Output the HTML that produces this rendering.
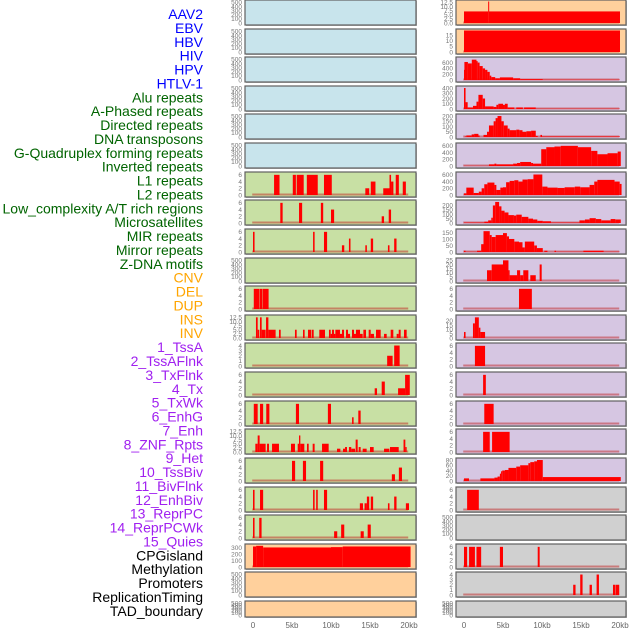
<!DOCTYPE html>
<html><head><meta charset="utf-8">
<style>
html,body{margin:0;padding:0;background:#fff;}
svg{display:block;font-family:"Liberation Sans",sans-serif;}
</style></head>
<body>
<svg id="chart" width="630" height="630" viewBox="0 0 630 630" xmlns="http://www.w3.org/2000/svg"></svg>
<script>
const trackLabels=["AAV2","EBV","HBV","HIV","HPV","HTLV-1","Alu repeats","A-Phased repeats","Directed repeats","DNA transposons","G-Quadruplex forming repeats","Inverted repeats","L1 repeats","L2 repeats","Low_complexity A/T rich regions","Microsatellites","MIR repeats","Mirror repeats","Z-DNA motifs","CNV","DEL","DUP","INS","INV","1_TssA","2_TssAFlnk","3_TxFlnk","4_Tx","5_TxWk","6_EnhG","7_Enh","8_ZNF_Rpts","9_Het","10_TssBiv","11_BivFlnk","12_EnhBiv","13_ReprPC","14_ReprPCWk","15_Quies","CPGisland","Methylation","Promoters","ReplicationTiming","TAD_boundary"];
const labelColors=["#0000ff","#0000ff","#0000ff","#0000ff","#0000ff","#0000ff","#006400","#006400","#006400","#006400","#006400","#006400","#006400","#006400","#006400","#006400","#006400","#006400","#006400","#ffa500","#ffa500","#ffa500","#ffa500","#ffa500","#a020f0","#a020f0","#a020f0","#a020f0","#a020f0","#a020f0","#a020f0","#a020f0","#a020f0","#a020f0","#a020f0","#a020f0","#a020f0","#a020f0","#a020f0","#000","#000","#000","#000","#000"];
const xTickKb=[0,5,10,15,20];
const xTickLabels=["0","5kb","10kb","15kb","20kb"];

const c1r6_s=[2.7,5.1,5.6,6.9,9.1,14.4,15.1,16.7,17.5,17.7,18.3,19.2];
const c1r6_e=[3.4,5.5,6.5,8.3,10.1,14.9,15.7,17.5,17.7,18.0,18.7,19.6];
const c1r6_v=[6,6,6,6,6,2,4,2,6,4,6,4];
const c1r7_s=[3.5,5.9,8.7,10.0,16.5,17.4];
const c1r7_e=[3.8,6.3,9.0,10.4,16.8,17.7];
const c1r7_v=[6,6,6,4,2,4];
const c1r8_s=[0,7.7,9.1,11.4,12.3,14.4,15.1,17.3,18.1];
const c1r8_e=[0.2,7.9,9.5,11.7,12.5,14.6,15.4,17.5,18.4];
const c1r8_v=[6,6,6,2,4,2,4,2,4];
const c1r10_s=[0.1,0.85,1.25];
const c1r10_e=[0.8,1.2,2.0];
const c1r10_v=[6,6,6];
const c1r11_s=[0.38,0.6,0.9,1.11,1.67,1.97,3.33,5.38,6.41,7.05,7.56,8.5,9.74,9.96,10.13,10.38,10.56,11.15,11.41,11.92,12.18,12.69,12.95,13.2,13.72,14.15,14.83,15.09,15.77,16.8,17.65,18.42,18.68,19.36];
const c1r11_e=[0.6,0.81,1.11,1.62,1.97,2.9,3.55,5.6,6.62,7.48,7.78,9.23,9.96,10.13,10.38,10.56,11.15,11.41,11.67,12.18,12.44,12.95,13.2,13.72,14.06,14.49,15.09,15.51,16.37,17.14,17.99,18.68,18.93,19.7];
const c1r11_v=[12.5,5,12.5,5,12.5,5,5,5,5,5,5,5,5,2.5,5,2.5,5,2.5,5,5,2.5,5,2.5,5,2.5,5,5,2.5,5,2.5,5,2.5,5,5];
const c1r12_s=[17.2,18.1];
const c1r12_e=[17.9,18.8];
const c1r12_v=[2,4];
const c1r13_s=[15.6,16.5,18.6,19.5];
const c1r13_e=[15.9,16.9,19.5,20.1];
const c1r13_v=[2,4,2,6];
const c1r14_s=[0.1,0.9,1.7,5.5,9.6,12.7,13.5];
const c1r14_e=[0.6,1.3,2.1,5.9,10.0,12.9,13.8];
const c1r14_v=[6,6,6,6,6,2,4];
const c1r15_s=[0.3,0.6,0.85,1.8,2.44,4.87,5.73,5.9,6.07,6.92,7.65,8.85,10.77,11.54,11.8,12.3,12.6,13.16,13.55,14.06,15.0,16.8,17.56,19.3,19.53];
const c1r15_e=[0.6,0.85,1.62,2.05,3.33,5.38,5.9,6.07,6.58,7.14,7.9,9.7,11.2,11.8,12.05,12.6,13.08,13.42,13.8,14.57,15.47,17.48,18.68,19.53,19.7];
const c1r15_v=[5,10,5,5,5,5,5,10,5,5,5,5,2,2,3,3,2,7.5,3,2,3,2,3,7.5,3];
const c1r16_s=[5.0,6.4,8.6,17.8,18.7];
const c1r16_e=[5.4,6.8,9.0,18.2,19.1];
const c1r16_v=[6,6,6,2,4];
const c1r17_s=[0,0.9,7.7,8.1,9.1,13.7,14.3,14.6,15.1,17.3,18.1,19.6];
const c1r17_e=[0.2,1.3,7.9,8.3,9.5,14.1,14.6,14.9,15.4,17.5,18.4,20.0];
const c1r17_v=[6,6,6,6,6,2,2,4,4,2,4,2];
const c1r18_s=[0,0.8,10.4,11.3,13.8,14.7];
const c1r18_e=[0.2,1.1,10.8,11.7,14.2,15.1];
const c1r18_v=[6,6,2,4,2,4];
const c1r19_s=[0,0.4,1.3,10.0,11.5];
const c1r19_e=[0.4,1.3,10.0,11.5,20.2];
const c1r19_v=[315,325,300,305,315];

const c2r0_s=[0,3.1,3.2];
const c2r0_e=[3.1,3.2,20];
const c2r0_v=[7,13,7];
const c2r1_s=[0];
const c2r1_e=[20];
const c2r1_v=[19];
const c2r2_s=[0,0.05,0.5,1.0,1.6,1.75,2.0,2.4,2.7,3.0,3.3,3.5,4.0,4.6,6.3,7.2,10.1];
const c2r2_e=[0.05,0.5,1.0,1.6,1.75,2.0,2.4,2.7,3.0,3.3,3.5,4.0,4.6,6.3,7.2,10.1,20];
const c2r2_v=[350,620,570,700,650,600,480,400,350,280,150,100,60,90,60,30,10];
const c2r3_s=[0,0.2,0.47,1.15,1.6,1.85,2.4,2.7,2.95,3.8,4.15,4.4,5.0,5.25,5.6,6.7,7.7,9.2];
const c2r3_e=[0.2,0.47,1.15,1.6,1.85,2.4,2.7,2.95,3.8,4.15,4.4,5.0,5.25,5.6,6.45,7.55,9.2,20];
const c2r3_v=[400,130,30,60,140,270,200,50,50,40,80,100,80,100,30,30,30,5];
const c2r4_s=[0.1,0.3,0.98,1.3,1.85,2.5,2.95,3.2,3.8,4.05,4.3,4.8,5.1,5.6,5.85,6.7,7.1,7.5,8.0,8.6,9.2,9.8,10.0];
const c2r4_e=[0.3,0.98,1.3,1.85,2.0,2.95,3.2,3.8,4.05,4.3,4.8,5.1,5.6,5.85,6.7,7.1,7.5,8.0,8.6,9.2,9.45,10.0,20];
const c2r4_v=[5,15,25,30,15,20,50,110,150,180,200,150,110,80,65,70,65,50,55,60,10,20,5];
const c2r5_s=[0,3.2,3.9,4.15,6.3,6.8,7.2,8.6,8.85,9.9,10.55,11.6,12.4,14.6,16.3,17.1,18.4,19.7];
const c2r5_e=[3.2,3.9,4.15,6.3,6.8,7.2,8.6,8.85,9.9,10.55,11.6,12.4,14.6,16.3,17.1,18.4,19.7,20.1];
const c2r5_v=[5,50,70,50,70,90,120,90,70,500,560,580,600,560,450,350,380,430];
const c2r6_s=[0,0.3,1.24,1.9,2.26,2.6,3.0,3.9,4.15,4.66,5.0,5.4,5.85,6.45,6.97,7.5,8.16,8.9,10.04,10.7,12.0,12.9,14.2,14.9,16.1,16.7,17.1,19.3,19.96];
const c2r6_e=[0.3,1.24,1.9,2.26,2.6,3.0,3.9,4.15,4.66,5.0,5.4,5.85,6.45,6.97,7.5,8.16,8.9,10.04,10.7,12.0,12.9,14.2,14.9,16.1,16.7,17.1,19.3,19.96,20.2];
const c2r6_v=[50,220,60,100,200,320,370,300,150,220,230,380,420,440,400,460,470,610,250,220,210,230,250,230,300,400,450,400,330];
const c2r7_s=[0,2.6,3.1,3.5,3.7,4.0,4.5,4.8,5.2,5.7,6.4,6.7,7.4,8.25,8.85,9.4,10.1,11.15,14.8,15.5,16.1,16.9,17.6,18.8,19.4];
const c2r7_e=[2.6,3.1,3.5,3.7,4.0,4.5,4.8,5.2,5.7,6.4,6.7,7.4,8.25,8.85,9.4,10.1,11.15,14.8,15.5,16.1,16.9,17.6,18.8,19.4,20.1];
const c2r7_v=[5,15,30,60,200,240,190,140,120,90,85,95,70,50,40,25,20,5,30,40,55,45,30,45,40];
const c2r8_s=[0,0.2,1.67,2.2,2.5,3.3,3.55,4.06,5.0,5.5,5.77,6.45,7.05,7.5,7.8,9.0,9.35,10.3,11.6,11.8,15.3,17.9];
const c2r8_e=[0.2,1.67,2.2,2.5,3.3,3.55,4.06,5.0,5.5,5.77,6.45,7.05,7.5,7.8,9.0,9.35,10.1,10.7,11.8,15.3,17.9,19.96];
const c2r8_v=[10,2,10,60,160,130,115,130,145,120,100,80,75,35,80,50,30,10,10,2,10,2];
const c2r9_s=[2.95,3.55,5.0,5.7,5.85,6.8,7.2,7.6,8.5,9.7];
const c2r9_e=[3.55,5.0,5.7,5.85,6.8,7.2,7.6,8.25,9.2,9.96];
const c2r9_v=[13,20,25,13,7,13,7,13,7,20];
const c2r10_s=[7.05];
const c2r10_e=[8.7];
const c2r10_v=[6];
const c2r11_s=[0,1.15,1.4,1.9,2.1];
const c2r11_e=[0.2,1.4,1.9,2.1,2.7];
const c2r11_v=[7,17,24,12,7];
const c2r12_s=[1.4];
const c2r12_e=[2.7];
const c2r12_v=[6];
const c2r13_s=[2.45];
const c2r13_e=[2.8];
const c2r13_v=[6];
const c2r14_s=[2.6];
const c2r14_e=[3.8];
const c2r14_v=[6];
const c2r15_s=[2.45,3.6];
const c2r15_e=[3.3,5.85];
const c2r15_v=[6,6];
const c2r16_s=[0,2.1,3.9,4.3,4.6,4.75,4.9,5.25,5.7,6.7,7.2,8.25,8.5,9.0,9.36,10.1];
const c2r16_e=[0.64,3.9,4.3,4.6,4.75,4.9,5.25,5.7,6.7,7.2,8.25,8.5,9.0,9.36,10.1,20.1];
const c2r16_v=[10,10,13,17,28,37,40,42,50,55,60,68,72,75,80,15];
const c2r17_s=[0.4];
const c2r17_e=[1.9];
const c2r17_v=[6];
const c2r19_s=[0,0.65,1.6,4.6,9.45];
const c2r19_e=[0.4,1.4,2.2,5.0,9.7];
const c2r19_v=[6,6,6,6,6];
const c2r20_s=[14.0,14.9,16.1,17.0,19.1,19.45];
const c2r20_e=[14.3,15.2,16.4,17.3,19.4,19.9];
const c2r20_v=[2,4,2,4,2,2];

const T500=[0,100,200,300,400,500];
const T6=[0,2,4,6];
const T125=[0,2.5,5,7.5,10,12.5];
const BLUE="#c8e4ec",GREEN="#c8e0a4",PEACH="#ffd09c",LAV="#d6c6e2",GRAY="#d0d0d0";
const panels=[];
for(let r=0;r<6;r++) panels.push([0,r,BLUE,520,T500,null,null,null,"c1-empty-"+r]);
panels.push([0,6,GREEN,6.4,T6,c1r6_s,c1r6_e,c1r6_v,"l1-panel"]);
panels.push([0,7,GREEN,6.4,T6,c1r7_s,c1r7_e,c1r7_v,"c1-row7"]);
panels.push([0,8,GREEN,6.4,T6,c1r8_s,c1r8_e,c1r8_v,"c1-row8"]);
panels.push([0,9,GREEN,520,T500,null,null,null,"c1-row9"]);
panels.push([0,10,GREEN,6.4,T6,c1r10_s,c1r10_e,c1r10_v,"c1-row10"]);
panels.push([0,11,GREEN,13,T125,c1r11_s,c1r11_e,c1r11_v,"c1-row11"]);
panels.push([0,12,GREEN,4.2,[0,1,2,3,4],c1r12_s,c1r12_e,c1r12_v,"c1-row12"]);
panels.push([0,13,GREEN,6.4,T6,c1r13_s,c1r13_e,c1r13_v,"c1-row13"]);
panels.push([0,14,GREEN,6.4,T6,c1r14_s,c1r14_e,c1r14_v,"c1-row14"]);
panels.push([0,15,GREEN,13,T125,c1r15_s,c1r15_e,c1r15_v,"c1-row15"]);
panels.push([0,16,GREEN,6.4,T6,c1r16_s,c1r16_e,c1r16_v,"c1-row16"]);
panels.push([0,17,GREEN,6.4,T6,c1r17_s,c1r17_e,c1r17_v,"c1-row17"]);
panels.push([0,18,GREEN,6.4,T6,c1r18_s,c1r18_e,c1r18_v,"c1-row18"]);
panels.push([0,19,PEACH,330,[0,100,200,300],c1r19_s,c1r19_e,c1r19_v,"cpg-panel"]);
panels.push([0,20,PEACH,520,T500,null,null,null,"c1-row20"]);
panels.push([0,21,PEACH,520,T500,null,null,null,"c1-row21"]);
panels.push([1,0,PEACH,13,T125,c2r0_s,c2r0_e,c2r0_v,"c2-row0"]);
panels.push([1,1,PEACH,19,[0,5,10,15],c2r1_s,c2r1_e,c2r1_v,"c2-row1"]);
panels.push([1,2,LAV,740,[0,200,400,600],c2r2_s,c2r2_e,c2r2_v,"c2-row2"]);
panels.push([1,3,LAV,410,[0,100,200,300,400],c2r3_s,c2r3_e,c2r3_v,"c2-row3"]);
panels.push([1,4,LAV,205,[0,50,100,150,200],c2r4_s,c2r4_e,c2r4_v,"c2-row4"]);
panels.push([1,5,LAV,640,[0,200,400,600],c2r5_s,c2r5_e,c2r5_v,"c2-row5"]);
panels.push([1,6,LAV,640,[0,200,400,600],c2r6_s,c2r6_e,c2r6_v,"c2-row6"]);
panels.push([1,7,LAV,245,[0,50,100,150,200],c2r7_s,c2r7_e,c2r7_v,"c2-row7"]);
panels.push([1,8,LAV,165,[0,50,100,150],c2r8_s,c2r8_e,c2r8_v,"c2-row8"]);
panels.push([1,9,LAV,26,[0,5,10,15,20,25],c2r9_s,c2r9_e,c2r9_v,"c2-row9"]);
panels.push([1,10,LAV,6.4,T6,c2r10_s,c2r10_e,c2r10_v,"c2-row10"]);
panels.push([1,11,LAV,25,[0,5,10,15,20],c2r11_s,c2r11_e,c2r11_v,"c2-row11"]);
panels.push([1,12,LAV,6.4,T6,c2r12_s,c2r12_e,c2r12_v,"c2-row12"]);
panels.push([1,13,LAV,6.4,T6,c2r13_s,c2r13_e,c2r13_v,"c2-row13"]);
panels.push([1,14,LAV,6.4,T6,c2r14_s,c2r14_e,c2r14_v,"c2-row14"]);
panels.push([1,15,LAV,6.4,T6,c2r15_s,c2r15_e,c2r15_v,"c2-row15"]);
panels.push([1,16,LAV,82,[0,20,40,60,80],c2r16_s,c2r16_e,c2r16_v,"c2-row16"]);
panels.push([1,17,GRAY,6.4,T6,c2r17_s,c2r17_e,c2r17_v,"c2-row17"]);
panels.push([1,18,GRAY,520,T500,null,null,null,"c2-row18"]);
panels.push([1,19,GRAY,6.4,T6,c2r19_s,c2r19_e,c2r19_v,"c2-row19"]);
panels.push([1,20,GRAY,4.2,[0,1,2,3,4],c2r20_s,c2r20_e,c2r20_v,"c2-row20"]);
panels.push([1,21,GRAY,520,T500,null,null,null,"c2-row21"]);

const NS="http://www.w3.org/2000/svg";
const svg=document.getElementById("chart");
function mk(tag,attrs,parent){const el=document.createElementNS(NS,tag);for(const k in attrs)el.setAttribute(k,attrs[k]);(parent||svg).appendChild(el);return el;}
const colX=[245,456], colW=[171,170];
function xScale(col,kb){return colX[col]+8+kb*7.8;}
function rowTop(r){return Math.round(r*28.62);}
function rowH(r){return r===21?16:25;}

trackLabels.forEach((t,i)=>{
  const el=mk("text",{x:203,y:19+i*13.88,"text-anchor":"end","font-size":"14",fill:labelColors[i]});
  el.textContent=t;
  
  
});

panels.forEach(p=>{
  const [col,row,bg,ymax,ticks,S,E,V,name]=p;
  const x0=colX[col],w=colW[col],y0=rowTop(row),h=rowH(row);
  const g=mk("g",{});
  
  
  mk("rect",{x:x0+1,y:y0+1,width:w,height:h,fill:"#bbb"},g);
  mk("rect",{x:x0,y:y0,width:w,height:h,fill:bg,stroke:"#606060","stroke-width":1.2},g);
  const base=y0+h-2, top=y0+1.5;
  const yScale=v=>base-(v/ymax)*(base-top);
  ticks.forEach(t=>{
    const tl=mk("text",{x:x0-3,y:yScale(t)+2.3,"text-anchor":"end","font-size":"6.5",fill:"#777"},g);
    tl.textContent=String(t%1===0?t:t.toFixed(1)).replace(/^(\d+)$/,ymax===13?"$1.0":"$1");
    
    
  });
  if(S){
    mk("line",{x1:xScale(col,-0.1),x2:xScale(col,19.9),y1:base-0.5,y2:base-0.5,stroke:"rgba(190,20,20,0.45)","stroke-width":2},g);
    for(let i=0;i<S.length;i++){
      const xa=xScale(col,S[i]),xb=xScale(col,E[i]);
      const b=mk("rect",{x:xa,y:yScale(V[i]),width:Math.max(1,xb-xa),height:base-yScale(V[i]),fill:"#ff0000"},g);
      
      
    }
  }
});

[0,1].forEach(col=>{
  xTickKb.forEach((k,i)=>{
    const t=mk("text",{x:xScale(col,k),y:628,"text-anchor":"middle","font-size":"8",fill:"#666"});
    t.textContent=xTickLabels[i];
    
    
  });
});
</script>
</body></html>
